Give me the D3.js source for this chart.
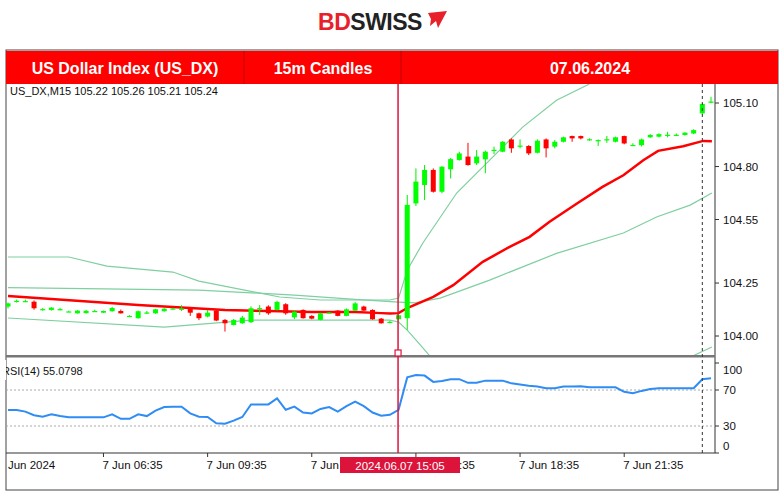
<!DOCTYPE html>
<html><head><meta charset="utf-8">
<script src="https://cdn.jsdelivr.net/npm/d3@7"></script>
<style>body{margin:0;background:#fff}svg{display:block}text{font-family:"Liberation Sans",Arial,sans-serif}</style>
</head><body><svg id="c" width="780" height="493"></svg>
<script>
// ---- data ----
const headerTexts = ["US Dollar Index (US_DX)", "15m Candles", "07.06.2024"];
const symbolInfo = "US_DX,M15  105.22 105.26 105.21 105.24";
const rsiInfo = "RSI(14) 55.0798";
const startMinute = 230; // 03:50, 15-minute candles
const opens  = [104.139,104.164,104.165,104.162,104.126,104.123,104.126,104.115,104.107,104.108,104.118,104.110,104.117,104.118,104.095,104.084,104.110,104.107,104.117,104.129,104.129,104.131,104.107,104.092,104.120,104.076,104.052,104.060,104.065,104.131,104.139,104.123,104.150,104.088,104.123,104.095,104.076,104.110,104.120,104.095,104.120,104.139,104.123,104.082,104.066,104.079,104.084,104.626,104.713,104.784,104.681,104.787,104.831,104.847,104.815,104.834,104.877,104.870,104.928,104.898,104.897,104.865,104.928,104.894,104.917,104.944,104.944,104.928,104.920,104.928,104.917,104.944,104.901,104.901,104.938,104.941,104.949,104.949,104.949,104.956,105.051,105.101];
const highs  = [104.158,104.172,104.172,104.168,104.132,104.136,104.133,104.120,104.122,104.123,104.124,104.120,104.138,104.125,104.098,104.120,104.118,104.128,104.131,104.133,104.146,104.133,104.110,104.123,104.122,104.080,104.080,104.095,104.140,104.146,104.145,104.166,104.155,104.120,104.126,104.098,104.110,104.113,104.122,104.130,104.160,104.143,104.126,104.085,104.072,104.100,104.666,104.791,104.807,104.791,104.802,104.840,104.870,104.912,104.878,104.875,104.894,104.920,104.933,104.928,104.901,104.928,104.933,104.925,104.941,104.946,104.946,104.933,104.928,104.944,104.941,104.946,104.910,104.932,104.953,104.957,104.964,104.956,104.962,104.976,105.098,105.129];
const lows   = [104.130,104.158,104.160,104.124,104.120,104.120,104.121,104.114,104.106,104.106,104.115,104.109,104.115,104.106,104.092,104.082,104.104,104.105,104.115,104.126,104.118,104.095,104.075,104.088,104.070,104.021,104.050,104.058,104.062,104.099,104.100,104.120,104.100,104.080,104.082,104.079,104.074,104.108,104.093,104.093,104.118,104.118,104.077,104.058,104.060,104.077,104.029,104.614,104.642,104.677,104.674,104.744,104.828,104.804,104.807,104.768,104.859,104.868,104.865,104.886,104.854,104.862,104.843,104.886,104.914,104.917,104.928,104.922,104.897,104.912,104.914,104.905,104.898,104.895,104.935,104.938,104.938,104.944,104.946,104.953,105.045,105.099];
const closes = [104.154,104.166,104.165,104.131,104.127,104.134,104.127,104.116,104.120,104.119,104.118,104.118,104.132,104.107,104.095,104.117,104.111,104.126,104.129,104.130,104.129,104.110,104.084,104.110,104.073,104.060,104.076,104.087,104.131,104.132,104.107,104.161,104.107,104.115,104.084,104.082,104.107,104.111,104.095,104.126,104.154,104.120,104.079,104.060,104.067,104.098,104.619,104.729,104.784,104.681,104.799,104.835,104.862,104.807,104.847,104.870,104.879,104.917,104.886,104.899,104.862,104.922,104.886,104.917,104.938,104.933,104.933,104.929,104.925,104.929,104.938,104.909,104.902,104.928,104.949,104.953,104.950,104.950,104.960,104.972,105.095,105.107];
// moving average (red) and envelope lines, as [candle index, price]
const maLine = [[0,104.189],[5,104.175],[10,104.160],[15,104.146],[20,104.134],[25,104.123],[30,104.118],[35,104.113],[40,104.113],[43,104.108],[44,104.106],[45,104.108],[46,104.132],[49,104.185],[51.3,104.24],[54.7,104.35],[57.8,104.421],[60.1,104.468],[62.4,104.539],[65.6,104.627],[68.5,104.704],[70.9,104.759],[73.2,104.830],[74.9,104.874],[77.8,104.896],[80.1,104.921],[81.1,104.919]];
const upperBand = [[0,104.373],[7,104.373],[11.4,104.330],[19,104.302],[22,104.259],[31.3,104.184],[36,104.170],[44,104.170],[45,104.179],[46,104.311],[47.8,104.439],[51.7,104.675],[55.5,104.830],[59.3,104.986],[63.2,105.113],[66.7,105.184],[70,105.26]];
const middleBand = [[0,104.228],[22,104.217],[33,104.193],[40,104.173],[45,104.160],[46.9,104.156],[49.8,104.179],[55.5,104.264],[63.2,104.390],[70.9,104.486],[74.8,104.563],[78.6,104.618],[81.1,104.675]];
const lowerBand = [[0,104.085],[18,104.042],[28,104.075],[44,104.075],[45,104.066],[46,104.028],[47.5,103.958],[49,103.887],[55,103.75],[65,103.70],[72,103.78],[78.6,103.90],[81.1,103.948]];
const rsiValues = [47.8,47.8,46,42,40.4,43,41,39.6,39.6,39.6,39.6,39.6,43,38,38,43,41,47,51,51.5,51.5,44,40.4,40,33,32.5,36,40,54,54,54,60.7,48,51.5,45,44,49,51,46,52,57,52,45,41.5,42.5,48,84,86.7,86,79,80,82,82,78,78,80.4,80.4,80.4,77.4,76,74.8,74,72,72,74,74,74.1,73,73,73,73,68,66.3,69,71,72,72,72,72,72,82,83];
const priceTicks = [104.00, 104.25, 104.55, 104.80, 105.10];
const rsiTicks = [0, 30, 70, 100];
const rsiLevels = [30, 70];
const timeTickMinutes = [215, 395, 575, 755, 935, 1115, 1295];
const timeTickLabels = ["7 Jun 2024","7 Jun 06:35","7 Jun 09:35","7 Jun 12:35","7 Jun 15:35","7 Jun 18:35","7 Jun 21:35"];
const markerIndex = 45, markerLabel = "2024.06.07 15:05";
const cursorIndex = 80;

// ---- layout ----
const svg = d3.select("#c");
const L = 6, R = 715, mainTop = 84, mainBot = 355, rsiTop = 358, rsiBot = 453;
const times = opens.map((d,i)=>startMinute+15*i);
const x = d3.scaleLinear().domain([startMinute, startMinute+15*81]).range([8, 711]);
const xi = i => x(startMinute+15*i);
const y = d3.scaleLinear().domain([104, 105.10]).range([336, 103]);
const yr = d3.scaleLinear().domain([0,100]).range([453,363]);

// logo
const logo = svg.append("text").attr("x",370).attr("y",30).attr("text-anchor","middle")
  .style("font-size","23px").style("font-weight","bold").style("letter-spacing","-0.5px");
logo.append("tspan").attr("fill","#e8202a").text("BD");
logo.append("tspan").attr("fill","#222").text("SWISS");
svg.append("path").attr("d","M428,13 L447,11 L438,28 L436,21 L430,26 L431,19 Z").attr("fill","#e8202a");

// frame
svg.append("rect").attr("x",L).attr("y",50).attr("width",772).attr("height",440).attr("fill","none").attr("stroke","#444").attr("stroke-width",1);
svg.append("rect").attr("x",L).attr("y",51).attr("width",772).attr("height",33).attr("fill","#ff0000");
[244,401].forEach(v=>svg.append("line").attr("x1",v).attr("x2",v).attr("y1",51).attr("y2",84).attr("stroke","#c00000"));
const hx = [125, 323, 590];
headerTexts.forEach((t,i)=>svg.append("text").attr("x",hx[i]).attr("y",74).attr("text-anchor","middle")
  .attr("fill","#fff").style("font-size","16px").style("font-weight","bold").text(t));

// main panel
const defs = svg.append("defs");
defs.append("clipPath").attr("id","mc").append("rect").attr("x",L).attr("y",mainTop).attr("width",R-L).attr("height",mainBot-mainTop);
defs.append("clipPath").attr("id","tc").append("rect").attr("x",L+1).attr("y",455).attr("width",770).attr("height",30);
const gm = svg.append("g").attr("clip-path","url(#mc)");
const band = d3.line().x(d=>xi(d[0])).y(d=>y(d[1]));
[upperBand, middleBand, lowerBand].forEach(b=>gm.append("path").attr("d",band(b)).attr("fill","none").attr("stroke","#7fcfa0").attr("stroke-width",1.2));
gm.append("path").attr("d",band(maLine)).attr("fill","none").attr("stroke","#ff0000").attr("stroke-width",2.5);

const idx = d3.range(opens.length);
const cw = 5;
gm.selectAll("line.w").data(idx).join("line").attr("x1",i=>xi(i)).attr("x2",i=>xi(i))
  .attr("y1",i=>y(highs[i])).attr("y2",i=>y(lows[i]))
  .attr("stroke",i=>closes[i]>=opens[i]?"#00ee00":"#ff0000").attr("stroke-width",1);
gm.selectAll("rect.b").data(idx).join("rect").attr("x",i=>xi(i)-cw/2).attr("width",cw)
  .attr("y",i=>y(Math.max(opens[i],closes[i])))
  .attr("height",i=>Math.max(1.2,Math.abs(y(opens[i])-y(closes[i]))))
  .attr("fill",i=>closes[i]>=opens[i]?"#00ff00":"#ff0000");

svg.append("text").attr("x",10).attr("y",95).style("font-size","11px").attr("fill","#111").text(symbolInfo);

// price axis
svg.append("line").attr("x1",R).attr("x2",R).attr("y1",mainTop).attr("y2",rsiBot).attr("stroke","#333");
priceTicks.forEach(p=>{
  svg.append("line").attr("x1",R).attr("x2",R+4).attr("y1",y(p)).attr("y2",y(p)).attr("stroke","#333");
  svg.append("text").attr("x",723).attr("y",y(p)+4).style("font-size","11.5px").attr("fill","#111").text(p.toFixed(2));
});

// separator
svg.append("rect").attr("x",L).attr("y",mainBot).attr("width",R-L).attr("height",2.5).attr("fill","#777");

// RSI panel
rsiLevels.forEach(v=>svg.append("line").attr("x1",L).attr("x2",R).attr("y1",yr(v)).attr("y2",yr(v))
  .attr("stroke","#aaa").attr("stroke-dasharray","2,2"));
svg.append("path").attr("d",d3.line().x((d,i)=>xi(i)).y(d=>yr(d))(rsiValues))
  .attr("fill","none").attr("stroke","#2f8cf5").attr("stroke-width",2);
svg.append("text").attr("x",2).attr("y",375).style("font-size","11px").attr("fill","#111").text(rsiInfo);
svg.append("rect").attr("x",0).attr("y",360).attr("width",L).attr("height",20).attr("fill","#fff");
rsiTicks.forEach(v=>{
  const yy = Math.min(446, Math.max(370, yr(v)));
  svg.append("line").attr("x1",R).attr("x2",R+4).attr("y1",yr(v)).attr("y2",yr(v)).attr("stroke","#333");
  svg.append("text").attr("x",723).attr("y",yy+4).style("font-size","11.5px").attr("fill","#111").text(v);
});
svg.append("line").attr("x1",L).attr("x2",R).attr("y1",rsiBot).attr("y2",rsiBot).attr("stroke","#333");

// time axis
const gt = svg.append("g").attr("clip-path","url(#tc)");
timeTickMinutes.forEach((m,i)=>{
  svg.append("line").attr("x1",x(m)).attr("x2",x(m)).attr("y1",rsiBot).attr("y2",rsiBot+4).attr("stroke","#333");
  gt.append("text").attr("x",x(m)-1).attr("y",469).style("font-size","11.5px").attr("fill","#111").text(timeTickLabels[i]);
});

// cursor dotted line and marker line
svg.append("line").attr("x1",xi(cursorIndex)).attr("x2",xi(cursorIndex)).attr("y1",mainTop).attr("y2",rsiBot)
  .attr("stroke","#333").attr("stroke-dasharray","3,3");
const mx = xi(markerIndex)-0.5;
svg.append("line").attr("x1",mx).attr("x2",mx).attr("y1",mainTop).attr("y2",rsiBot).attr("stroke","#dc143c").attr("stroke-width",1.5);
svg.append("rect").attr("x",mx-3).attr("y",mainBot-5).attr("width",6).attr("height",6).attr("fill","#fff").attr("stroke","#dc143c").attr("stroke-width",1.2);
svg.append("rect").attr("x",340).attr("y",457).attr("width",120).attr("height",16).attr("fill","#dc143c");
svg.append("text").attr("x",400).attr("y",469.5).attr("text-anchor","middle").attr("fill","#fff").style("font-size","11.5px").text(markerLabel);
</script></body></html>
